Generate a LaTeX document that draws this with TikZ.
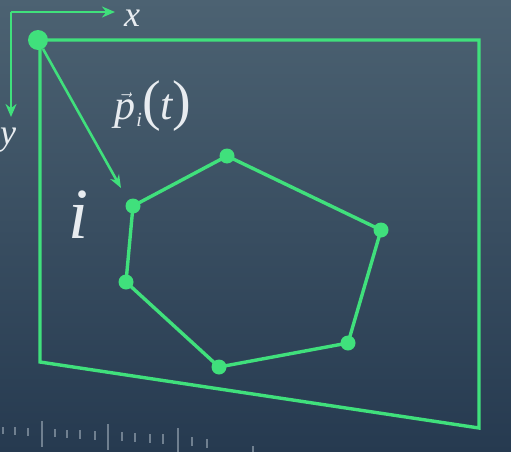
\documentclass[tikz,border=0pt]{standalone}
\usepackage{fontspec}
\setmainfont{Liberation Serif}
\usetikzlibrary{arrows.meta}
\definecolor{gr}{RGB}{64,224,124}
\definecolor{bgtop}{RGB}{76,98,114}
\definecolor{bgbot}{RGB}{38,58,80}
\definecolor{txt}{RGB}{232,236,240}
\definecolor{tickc}{RGB}{112,128,144}
\begin{document}
\begin{tikzpicture}[x=1pt,y=-1pt,
  gline/.style={gr,line width=3.4pt,line join=miter},
  vdot/.style={circle,fill=gr,inner sep=0pt,minimum size=15pt},
  lbl/.style={txt,inner sep=0pt}]
\shade[top color=bgtop,bottom color=bgbot] (0,0) rectangle (511,452);
\useasboundingbox (0,0) rectangle (511,452);
% ruler ticks
\foreach \x/\a/\b in {3/427/434,15/427/435,28/428/436,42/421/447,55/429/437,67/430/438,80/430/439,95/431/440,108/424/450,122/432/441,135/433/442,150/434/443,163/434/444,178/428/452,192/437/446,207/439/448,253/446/452}
  \draw[tickc,line width=1.6pt] (\x,\a) -- (\x,\b);
% origin and frame
\node[circle,fill=gr,inner sep=0pt,minimum size=20pt] (o) at (38,40) {};
\coordinate (tr) at (479,40);
\coordinate (br) at (479,428);
\coordinate (bl) at (40,362);
\coordinate (tl) at (40,40);
\draw[gline] (o.center) -- (tr) -- (br) -- (bl) -- (tl);
% axes
\coordinate (ax) at (11,12);
\coordinate (xe) at (115,12);
\coordinate (ye) at (11,117);
\draw[gline,line width=2.8pt,-{Stealth[length=13pt,width=11pt]}] (ax) -- (xe);
\draw[gline,line width=2.8pt,-{Stealth[length=13pt,width=11pt]}] (ax) -- (ye);
\node[lbl,font=\itshape\fontsize{36}{36}\selectfont] (xl) at (132,18) {x};
\node[lbl,font=\itshape\fontsize{36}{36}\selectfont] (yl) at (8,140) {y};
% polygon
\node[vdot] (v1) at (133,206) {};
\node[vdot] (v2) at (227,156) {};
\node[vdot] (v3) at (381,230) {};
\node[vdot] (v4) at (348,343) {};
\node[vdot] (v5) at (219,367) {};
\node[vdot] (v6) at (126,282) {};
\draw[gline] (v1.center) -- (v2.center) -- (v3.center) -- (v4.center) -- (v5.center) -- (v6.center) -- cycle;
% position vector
\coordinate (tip) at (121,188);
\draw[gline,line width=2.6pt,-{Stealth[length=13pt,width=10pt]}] (o) -- (tip);
\node[lbl] (pl) at (153,106) {{\fontsize{42}{42}\selectfont$\vec{\mbox{\itshape p}}$}\hspace{1pt}\raisebox{-7pt}{\fontsize{20}{20}\selectfont\itshape i}{\fontsize{56}{56}\selectfont(}{\fontsize{44}{44}\selectfont\itshape t}{\fontsize{56}{56}\selectfont)}};
\node[lbl,font=\itshape\fontsize{72}{72}\selectfont] (il) at (79,215) {i};
\end{tikzpicture}
\end{document}
